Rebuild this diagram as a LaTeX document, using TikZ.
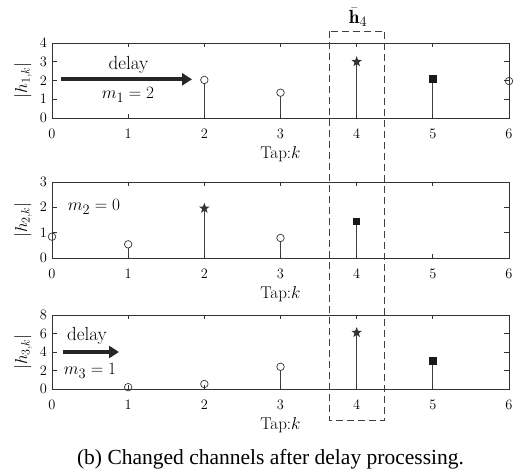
\documentclass[tikz,border=0pt]{standalone}
\usepackage{fontspec}
\newfontfamily\capfont{Liberation Serif}
\usetikzlibrary{shapes.geometric,arrows.meta}
\tikzset{
  axisline/.style={draw=black!80,line width=0.8pt},
  stemline/.style={draw=black!75,line width=0.8pt},
  ticklab/.style={font=\fontsize{15.5}{18}\selectfont,inner sep=0pt},
  axlab/.style={font=\fontsize{17}{20}\selectfont,inner sep=0pt},
  annot/.style={font=\fontsize{19}{22}\selectfont,inner sep=0pt},
  circmark/.style={circle,draw=black!80,fill=white,line width=0.7pt,minimum size=7.5pt,inner sep=0pt},
  starmark/.style={star,star points=5,star point ratio=2.4,fill=black!80,minimum size=11pt,inner sep=0pt},
  sqmark/.style={rectangle,fill=black!90,minimum size=7.5pt,inner sep=0pt},
  bigarrow/.style={draw=black!85,line width=3.6pt,-{Triangle[length=10pt,width=12pt]}},
  boxdash/.style={draw=black!75,line width=0.8pt,dash pattern=on 7pt off 4pt}
}
% #1 top, #2 bottom, #3 ymax, #4 ystep, #5 ylabel, #6 name
\newcommand\drawpanel[6]{%
  \draw[axisline] (52,#1) rectangle (509,#2);
  \foreach \k in {0,...,6}{%
    \pgfmathsetmacro\sx{52+76.17*\k}
    \draw[axisline] (\sx,#2) -- ++(0,-4);
    \draw[axisline] (\sx,#1) -- ++(0,4);
    \node[ticklab] (#6x\k) at (\sx,#2+16) {$\k$};
  }
  \foreach \v in {0,#4,...,#3}{%
    \pgfmathsetmacro\sy{#2-(#2-#1)*\v/#3}
    \draw[axisline] (52,\sy) -- ++(5,0);
    \draw[axisline] (509,\sy) -- ++(-5,0);
    \node[ticklab,anchor=east] (#6y\v) at (47,\sy) {$\v$};
  }
  \node[axlab] (#6tap) at (280.5,#2+36) {Tap:$k$};
  \node[axlab,rotate=90] (#6ylab) at (23,{(#1+#2)/2}) {$|h_{#5,k}|$};
}
% #1 top, #2 bottom, #3 ymax, #4 k, #5 value, #6 marker, #7 name
\newcommand\stemat[7]{%
  \pgfmathsetmacro\sx{52+76.17*#4}
  \pgfmathsetmacro\sy{#2-(#2-#1)*#5/#3}
  \draw[stemline] (\sx,#2) -- (\sx,\sy);
  \node[#6] (#7) at (\sx,\sy) {};
}
\begin{document}
\begin{tikzpicture}[x=1pt,y=-1pt]
\useasboundingbox[fill=white] (0,0) rectangle (520,476);
% panel 1
\stemat{43}{118}{4}{2}{2.03}{circmark}{pa2}
\stemat{43}{118}{4}{3}{1.35}{circmark}{pa3}
\stemat{43}{118}{4}{4}{3.0}{starmark}{pa4}
\stemat{43}{118}{4}{5}{2.08}{sqmark}{pa5}
\stemat{43}{118}{4}{6}{1.97}{circmark}{pa6}
\drawpanel{43}{118}{4}{1}{1}{pa}
% panel 2
\stemat{182}{258}{3}{0}{0.84}{circmark}{pb0}
\stemat{182}{258}{3}{1}{0.54}{circmark}{pb1}
\stemat{182}{258}{3}{2}{1.96}{starmark}{pb2}
\stemat{182}{258}{3}{3}{0.79}{circmark}{pb3}
\stemat{182}{258}{3}{4}{1.45}{sqmark}{pb4}
\drawpanel{182}{258}{3}{1}{2}{pb}
% panel 3
\stemat{315}{389}{8}{1}{0.2}{circmark}{pc1}
\stemat{315}{389}{8}{2}{0.54}{circmark}{pc2}
\stemat{315}{389}{8}{3}{2.4}{circmark}{pc3}
\stemat{315}{389}{8}{4}{6.1}{starmark}{pc4}
\stemat{315}{389}{8}{5}{3.03}{sqmark}{pc5}
\drawpanel{315}{389}{8}{2}{3}{pc}
% annotations
\coordinate (a1s) at (61,79.3);
\coordinate (a1e) at (192,79.3);
\draw[bigarrow] (a1s) -- (a1e);
\node[annot] (d1) at (128.5,65) {delay};
\node[annot] (m1) at (128,95) {$m_1=2$};
\node[annot] (m2) at (94,207) {$m_2=0$};
\coordinate (a3s) at (63,352);
\coordinate (a3e) at (119,352);
\draw[bigarrow] (a3s) -- (a3e);
\node[annot] (d3) at (87,336) {delay};
\node[annot] (m3) at (90,371) {$m_3=1$};
% dashed box
\coordinate (bx1) at (329,31);
\coordinate (bx2) at (384.5,420);
\draw[boxdash] (bx1) rectangle (bx2);
\node[annot] (hbar) at (358,17) {$\bar{\mathbf{h}}_4$};
% caption
\node[font=\capfont\fontsize{21.5}{25}\selectfont,inner sep=0pt] (cap) at (270.5,459) {(b) Changed channels after delay processing.};
\end{tikzpicture}
\end{document}
